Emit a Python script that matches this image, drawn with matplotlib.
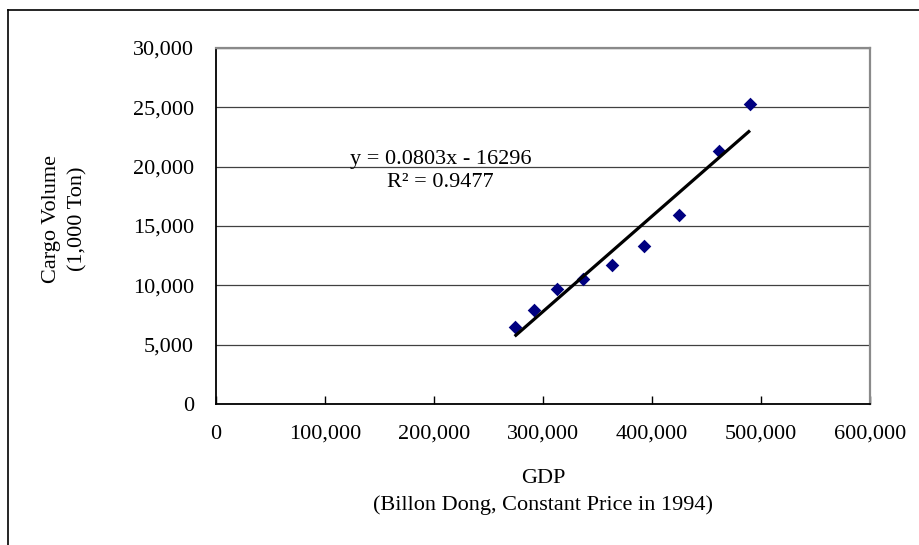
import matplotlib.pyplot as plt
from matplotlib.lines import Line2D
from matplotlib.ticker import FuncFormatter, MultipleLocator

# GDP (billion dong, 1994 prices) vs cargo volume (1,000 ton)
gdp = [274000, 292000, 313100, 336400, 363000, 392700, 424500, 461200, 489900]
cargo = [6480, 7940, 9730, 10550, 11700, 13330, 15910, 21300, 25290]

# trendline as printed on the chart
slope = 0.0803
intercept = -16296
r2 = 0.9477

plt.rcParams['font.family'] = ['Liberation Serif', 'DejaVu Serif']
fs = 16

fig = plt.figure(figsize=(9.2, 5.45), dpi=100)
ax = fig.add_axes([216/920, 1-404/545, 654/920, 356/545])

ax.scatter(gdp, cargo, marker='D', s=48, color='#000080', linewidths=0, zorder=3)

xs = [min(gdp), max(gdp)]
ys = [slope*v + intercept for v in xs]
ax.plot(xs, ys, color='black', lw=2.3, solid_capstyle='butt', zorder=4)

ax.text(206000, 19650, "y = 0.0803x - 16296\nR\u00b2 = %.4f" % r2,
        ha='center', va='center', fontsize=fs, linespacing=1.25, zorder=5)

ax.set_xlim(0, 600000)
ax.set_ylim(0, 30000)
ax.xaxis.set_major_locator(MultipleLocator(100000))
ax.yaxis.set_major_locator(MultipleLocator(5000))
fmt = FuncFormatter(lambda v, p: "{:,.0f}".format(v))
ax.xaxis.set_major_formatter(fmt)
ax.yaxis.set_major_formatter(fmt)

ax.tick_params(axis='x', direction='in', length=6, width=1, pad=15, labelsize=fs)
ax.tick_params(axis='y', length=0, pad=16, labelsize=fs)

ax.yaxis.grid(True, color='#404040', lw=0.9)
ax.set_axisbelow(True)

for s in ['left', 'bottom']:
    ax.spines[s].set_color('black')
    ax.spines[s].set_linewidth(1.3)
for s in ['top', 'right']:
    ax.spines[s].set_color('#8a8a8a')
    ax.spines[s].set_linewidth(1.6)

ax.set_xlabel("GDP\n(Billon Dong, Constant Price in 1994)", fontsize=fs, linespacing=1.45)
ax.xaxis.set_label_coords(0.5, -0.247)
ax.xaxis.label.set_va('center')

ax.set_ylabel("Cargo Volume\n(1,000 Ton)", fontsize=fs, linespacing=1.5)
ax.yaxis.set_label_coords(-0.231, 0.52)
ax.yaxis.label.set_va('center')

# outer chart-area border (runs off the right and bottom edges)
x0 = 8/920
y0 = 1 - 10/545
fig.add_artist(Line2D([x0, x0], [0, y0], color='black', lw=1.2))
fig.add_artist(Line2D([x0, 1], [y0, y0], color='black', lw=1.2))

fig.savefig('out.png', dpi=100)
